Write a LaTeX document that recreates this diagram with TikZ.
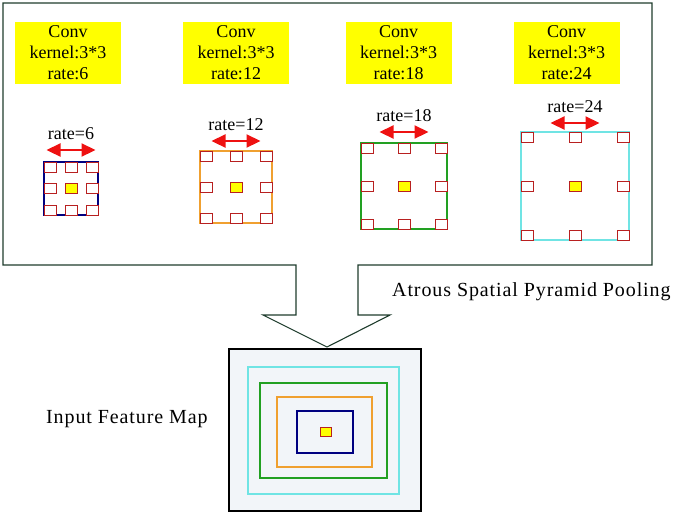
\documentclass[tikz,border=0pt]{standalone}
\usepackage{fontspec}
\setmainfont{Liberation Serif}
\newfontfamily\spacedfont[LetterSpace=4.5]{Liberation Serif}
\usetikzlibrary{arrows.meta}
\definecolor{framec}{HTML}{1E3C2C}
\definecolor{cellred}{HTML}{B82020}
\definecolor{arrred}{HTML}{EE1111}
\definecolor{yel}{HTML}{FFFF00}
\definecolor{navyc}{HTML}{000080}
\definecolor{orangec}{HTML}{F0A030}
\definecolor{greenc}{HTML}{22A022}
\definecolor{cyanc}{HTML}{70E4E4}
\definecolor{mapfill}{HTML}{F2F5F9}
\tikzset{
  conv/.style={fill=yel, draw=none, minimum width=106pt, minimum height=62pt, inner sep=0pt,
    align=center, font=\fontsize{18}{21}\selectfont},
  cell/.style={draw=cellred, fill=white, line width=1pt, minimum width=12pt, minimum height=10pt, inner sep=0pt},
  centercell/.style={cell, fill=yel},
  ratearrow/.style={draw=arrred, line width=2.2pt, {Triangle[length=14pt,width=13pt]}-{Triangle[length=14pt,width=13pt]}},
  ratelabel/.style={font=\fontsize{18}{20}\selectfont, inner sep=0pt},
  bigtext/.style={font=\spacedfont\fontsize{20}{22}\selectfont, inner sep=0pt},
  ring/.style={line width=1.3pt},
}
\newcommand\kdiag[8]{%
  \draw[#6, ring] (#2,#3) rectangle (#4,#5);
  \pgfmathsetmacro\mx{(#2+#4)/2}
  \pgfmathsetmacro\my{(#3+#5)/2}
  \pgfmathsetmacro\xa{#2+6}
  \pgfmathsetmacro\xb{#4-6}
  \pgfmathsetmacro\ya{#3+5}
  \pgfmathsetmacro\yb{#5-5}
  \foreach \cx/\cy/\cn in {\xa/\ya/a,\mx/\ya/b,\xb/\ya/c,\xa/\my/d,\xb/\my/f,\xa/\yb/g,\mx/\yb/h,\xb/\yb/i}{
    \node[cell] (#1\cn) at (\cx,\cy) {};
  }
  \node[centercell] (#1e) at (\mx,\my) {};
  \coordinate (#1l) at (\mx-24.5,#8);
  \coordinate (#1r) at (\mx+24.5,#8);
  \draw[ratearrow] (#1l) -- (#1r);
  \node[ratelabel] (#1t) at (\mx,#8-16) {#7};
}
\begin{document}
\begin{tikzpicture}[x=1pt,y=-1pt]
\useasboundingbox (0,0) rectangle (691,515);
% frame with down arrow
\draw[framec, line width=1.1pt] (3,3) -- (652,3) -- (652,265) -- (358,265) -- (358,315) -- (390,315)
  -- (327,347) -- (263,315) -- (296,315) -- (296,265) -- (3,265) -- cycle;
% conv boxes
\node[conv] (c1) at (68,53) {Conv\\kernel:3*3\\rate:6};
\node[conv] (c2) at (236,53) {Conv\\kernel:3*3\\rate:12};
\node[conv] (c3) at (398.5,53) {Conv\\kernel:3*3\\rate:18};
\node[conv] (c4) at (566.5,53) {Conv\\kernel:3*3\\rate:24};
% kernel diagrams
\kdiag{k1}{44}{162}{98}{215}{navyc}{rate=6}{150}
\kdiag{k2}{200}{151}{272}{223}{orangec}{rate=12}{141}
\kdiag{k3}{361}{143}{447}{229}{greenc}{rate=18}{132}
\kdiag{k4}{521}{132}{629}{240}{cyanc}{rate=24}{123}
% labels
\node[bigtext, anchor=west] (aspp) at (392,292) {Atrous Spatial Pyramid Pooling};
\node[bigtext, anchor=west] (ifm) at (46,419) {Input Feature Map};
% input feature map
\draw[black, fill=mapfill, line width=1.1pt] (229,349) rectangle (421,511);
\draw[cyanc, ring] (248,367) rectangle (399,494);
\draw[greenc, ring] (260,383) rectangle (387,478);
\draw[orangec, ring] (277,397) rectangle (372,467);
\draw[navyc, ring] (297,411) rectangle (353,453);
\node[centercell, minimum width=11pt, minimum height=9pt] (mc) at (326,432) {};
\end{tikzpicture}
\end{document}
